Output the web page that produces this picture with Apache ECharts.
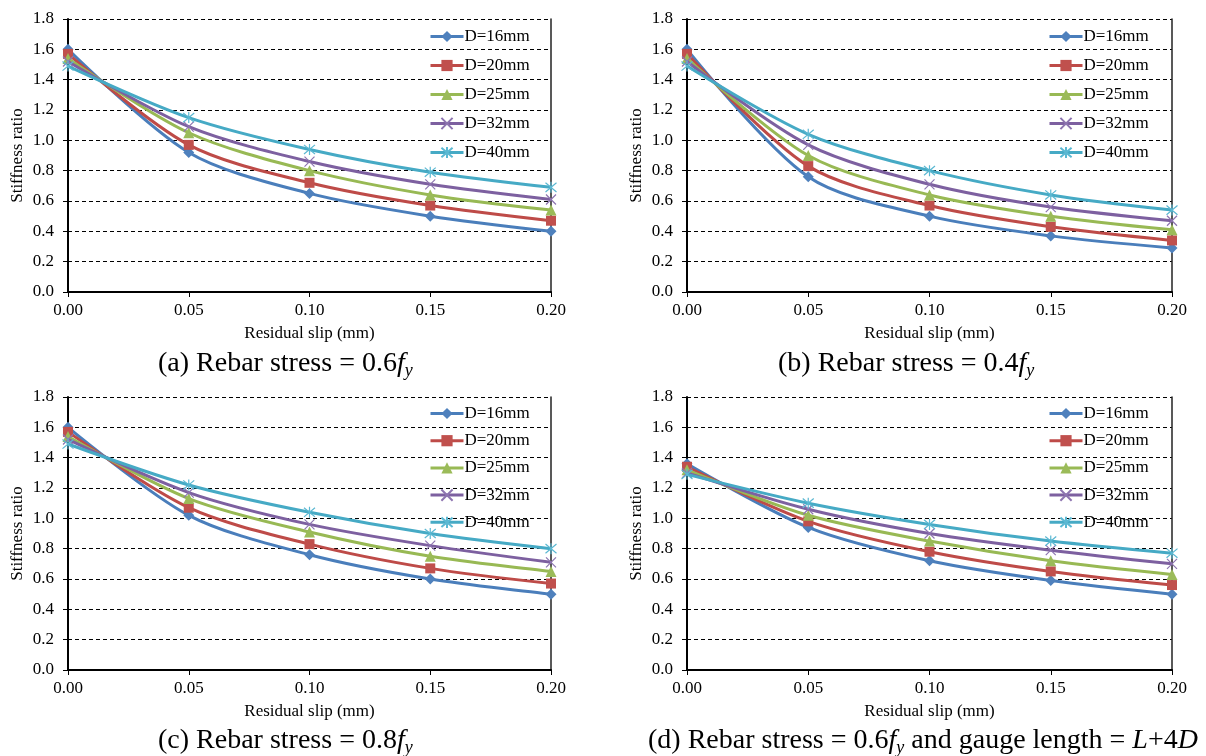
<!DOCTYPE html>
<html>
<head>
<meta charset="utf-8">
<script src="https://cdn.jsdelivr.net/npm/echarts@6/dist/echarts.min.js"></script>
<style>
html,body{margin:0;padding:0;background:#fff;}
#chart{width:1206px;height:756px;}
</style>
</head>
<body>
<div id="chart"></div>
<script>
// ---- data ----
const residualSlip = [0.00, 0.05, 0.10, 0.15, 0.20];
const seriesNames = ['D=16mm', 'D=20mm', 'D=25mm', 'D=32mm', 'D=40mm'];

// (a) Rebar stress = 0.6fy
const a_D16 = [1.60, 0.92, 0.65, 0.50, 0.40];
const a_D20 = [1.57, 0.97, 0.72, 0.57, 0.47];
const a_D25 = [1.54, 1.05, 0.80, 0.64, 0.54];
const a_D32 = [1.52, 1.09, 0.86, 0.71, 0.61];
const a_D40 = [1.49, 1.15, 0.94, 0.79, 0.69];
// (b) Rebar stress = 0.4fy
const b_D16 = [1.60, 0.76, 0.50, 0.37, 0.29];
const b_D20 = [1.57, 0.83, 0.57, 0.43, 0.34];
const b_D25 = [1.54, 0.90, 0.64, 0.50, 0.41];
const b_D32 = [1.52, 0.97, 0.71, 0.56, 0.47];
const b_D40 = [1.49, 1.04, 0.80, 0.64, 0.54];
// (c) Rebar stress = 0.8fy
const c_D16 = [1.60, 1.02, 0.76, 0.60, 0.50];
const c_D20 = [1.57, 1.07, 0.83, 0.67, 0.57];
const c_D25 = [1.54, 1.13, 0.91, 0.75, 0.65];
const c_D32 = [1.52, 1.17, 0.96, 0.82, 0.71];
const c_D40 = [1.49, 1.22, 1.04, 0.90, 0.80];
// (d) Rebar stress = 0.6fy and gauge length = L+4D
const d_D16 = [1.36, 0.94, 0.72, 0.59, 0.50];
const d_D20 = [1.34, 0.98, 0.78, 0.65, 0.56];
const d_D25 = [1.32, 1.02, 0.85, 0.72, 0.63];
const d_D32 = [1.30, 1.06, 0.90, 0.79, 0.70];
const d_D40 = [1.29, 1.10, 0.96, 0.85, 0.77];

const panelData = [
  [a_D16, a_D20, a_D25, a_D32, a_D40],
  [b_D16, b_D20, b_D25, b_D32, b_D40],
  [c_D16, c_D20, c_D25, c_D32, c_D40],
  [d_D16, d_D20, d_D25, d_D32, d_D40]
];

// ---- styles ----
const FONT = "'Liberation Serif','Times New Roman',serif";
const lineColors = ['#4A7EBB', '#BE4B48', '#98B954', '#7D60A0', '#46AAC5'];
const markerColors = ['#4F81BD', '#C0504D', '#9BBB59', '#8D74B0', '#5BB8D2'];
const symbols = [
  'diamond',
  'rect',
  'triangle',
  'path://M0,0L10,10M10,0L0,10',
  'path://M0,0L10,10M10,0L0,10M5,-1L5,11'
];
const symbolSizes = [11, 10, 11, 10, 11];

const grids = [
  {left: 68, top: 19, width: 483, height: 273},
  {left: 687, top: 19, width: 485, height: 273},
  {left: 68, top: 397, width: 483, height: 273},
  {left: 687, top: 397, width: 485, height: 273}
];

const xAxes = [], yAxes = [], series = [], legends = [];
grids.forEach((g, i) => {
  xAxes.push({
    type: 'value', gridIndex: i, min: 0, max: 0.2, interval: 0.05,
    name: 'Residual slip (mm)', nameLocation: 'middle', nameGap: 33,
    nameTextStyle: {fontFamily: FONT, fontSize: 17, color: '#000'},
    axisLine: {show: true, lineStyle: {color: '#000', width: 2}},
    axisTick: {show: true, length: 5, lineStyle: {color: '#000', width: 1}},
    axisLabel: {fontFamily: FONT, fontSize: 17, color: '#000', margin: 10,
      formatter: v => v.toFixed(2)},
    splitLine: {show: false}
  });
  yAxes.push({
    type: 'value', gridIndex: i, min: 0, max: 1.8, interval: 0.2,
    name: 'Stiffness ratio', nameLocation: 'middle', nameGap: 42, nameRotate: 90,
    nameTextStyle: {fontFamily: FONT, fontSize: 17, color: '#000'},
    axisLine: {show: true, onZero: false, lineStyle: {color: '#000', width: 2}},
    axisTick: {show: true, length: 5, lineStyle: {color: '#000', width: 1}},
    axisLabel: {fontFamily: FONT, fontSize: 17, color: '#000', margin: 14,
      formatter: v => v.toFixed(1)},
    splitLine: {show: true, lineStyle: {color: '#000', width: 1, type: [4, 3]}}
  });
  // right-hand frame line
  yAxes.push({
    type: 'value', gridIndex: i, min: 0, max: 1.8, interval: 0.2, position: 'right',
    axisLine: {show: true, onZero: false, lineStyle: {color: '#222', width: 1.5}},
    axisTick: {show: false}, axisLabel: {show: false}, splitLine: {show: false}
  });
  const yIdx = i * 2;
  panelData[i].forEach((vals, k) => {
    const isStroke = k >= 3;
    series.push({
      name: seriesNames[k], type: 'line', xAxisIndex: i, yAxisIndex: yIdx,
      data: residualSlip.map((x, j) => [x, vals[j]]),
      smooth: 0.3,
      symbol: symbols[k], symbolSize: symbolSizes[k], showSymbol: true,
      lineStyle: {color: lineColors[k], width: 3},
      itemStyle: isStroke
        ? {color: 'rgba(0,0,0,0)', borderColor: markerColors[k], borderWidth: 1.2}
        : {color: markerColors[k], borderWidth: 0},
      color: lineColors[k],
      emphasis: {disabled: true},
      animation: false,
      z: 2 + k
    });
  });
  const top = i < 2 ? g.top + 9 : g.top + 8;
  legends.push({
    orient: 'vertical', left: g.left + 361, top: top, padding: 0,
    itemWidth: 33, itemHeight: 14, itemGap: i < 2 ? 12 : 10.2,
    selectedMode: false,
    data: seriesNames,
    lineStyle: {width: 3},
    textStyle: {fontFamily: FONT, fontSize: 17, color: '#000', lineHeight: 14, padding: [0, 0, 0, -4]}
  });
});

function richCaption() {
  return {
    n: {fontFamily: FONT, fontSize: 28, color: '#000', lineHeight: 32},
    i: {fontFamily: FONT, fontSize: 28, color: '#000', fontStyle: 'italic', lineHeight: 32},
    s: {fontFamily: FONT, fontSize: 18, color: '#000', fontStyle: 'italic', verticalAlign: 'bottom', lineHeight: 16}
  };
}
const titles = [
  {text: '{n|(a) Rebar stress = 0.6}{i|f}{s|y}', left: 158, top: 348},
  {text: '{n|(b) Rebar stress = 0.4}{i|f}{s|y}', left: 778, top: 348},
  {text: '{n|(c) Rebar stress = 0.8}{i|f}{s|y}', left: 158, top: 725},
  {text: '{n|(d) Rebar stress = 0.6}{i|f}{s|y}{n| and gauge length = }{i|L}{n|+4}{i|D}', left: 648, top: 725}
].map(t => ({
  text: t.text, left: t.left, top: t.top, padding: 0,
  textStyle: {rich: richCaption(), fontFamily: FONT, fontSize: 28, color: '#000', fontWeight: 'normal'}
}));

const chart = echarts.init(document.getElementById('chart'), null, {renderer: 'canvas'});
chart.setOption({
  backgroundColor: '#fff',
  animation: false,
  title: titles,
  grid: grids,
  xAxis: xAxes,
  yAxis: yAxes,
  legend: legends,
  series: series
});
</script>
</body>
</html>
